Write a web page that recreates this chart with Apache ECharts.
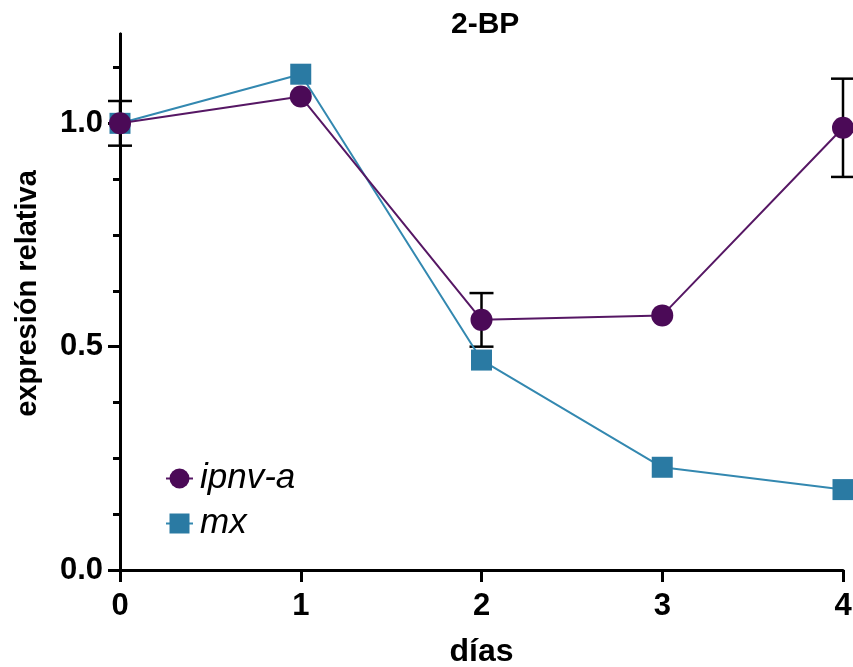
<!DOCTYPE html>
<html><head><meta charset="utf-8">
<script src="https://cdn.jsdelivr.net/npm/echarts@6/dist/echarts.min.js"></script>
<style>html,body{margin:0;padding:0;background:#fff}#c{width:853px;height:667px}</style>
</head><body><div id="c"></div>
<script>
const days = [0, 1, 2, 3, 4];
const ipnvA = [1.0, 1.06, 0.56, 0.57, 0.99];
const ipnvAErr = [0.05, 0, 0.06, 0, 0.11];
const mx = [1.0, 1.11, 0.47, 0.23, 0.18];
const yMajorTicks = [0, 0.5, 1.0];
const yMinorTicks = [0, 0.125, 0.25, 0.375, 0.5, 0.625, 0.75, 0.875, 1.0, 1.125];
const xTicks = [0, 1, 2, 3, 4];
const seriesNames = ['ipnv-a', 'mx'];

const FONT = "'Liberation Sans', Arial, Helvetica, sans-serif";
const PURPLE = '#4b0a57';
const PURPLE_LINE = '#561764';
const BLUE = '#2a7aa3';
const BLUE_LINE = '#3388b0';

const chart = echarts.init(document.getElementById('c'), null, {renderer: 'canvas'});

const axisBase = {
  type: 'value', min: 0, max: 1.2,
  splitLine: {show: false}
};

const option = {
  animation: false,
  backgroundColor: '#fff',
  title: {
    text: '2-BP', left: 446, top: 5,
    textStyle: {fontFamily: FONT, fontSize: 30, fontWeight: 'bold', color: '#000'}
  },
  grid: {left: 120, right: 10, top: 34, bottom: 97, containLabel: false, outerBoundsMode: 'none'},
  legend: {
    data: seriesNames,
    orient: 'vertical', left: 160, top: 456,
    itemWidth: 27, itemHeight: 25, itemGap: 10,
    textStyle: {fontFamily: FONT, fontSize: 35, fontStyle: 'italic', color: '#000', padding: [0, 0, 0, 2]}
  },
  xAxis: {
    type: 'value', min: 0, max: 4, interval: 1,
    name: 'días', nameLocation: 'middle', nameGap: 66,
    nameTextStyle: {fontFamily: FONT, fontSize: 32, fontWeight: 'bold', color: '#000'},
    axisLine: {lineStyle: {color: '#000', width: 3}},
    axisTick: {show: true, inside: false, length: 12, customValues: xTicks, lineStyle: {color: '#000', width: 3}},
    axisLabel: {customValues: xTicks, fontFamily: FONT, fontSize: 31, fontWeight: 'bold', color: '#000', margin: 21},
    splitLine: {show: false}
  },
  yAxis: [
    Object.assign({}, axisBase, {
      name: 'expresión relativa', nameLocation: 'middle', nameGap: 78,
      nameTextStyle: {fontFamily: FONT, fontSize: 29, fontWeight: 'bold', color: '#000', padding: [0, 0, 0, 17]},
      axisLine: {show: true, lineStyle: {color: '#000', width: 3}},
      axisTick: {show: true, inside: false, length: 12, customValues: yMajorTicks, lineStyle: {color: '#000', width: 3}},
      axisLabel: {customValues: yMajorTicks, formatter: v => v.toFixed(1), fontFamily: FONT, fontSize: 31, fontWeight: 'bold', color: '#000', margin: 17}
    }),
    Object.assign({}, axisBase, {
      position: 'left',
      axisLine: {show: true, lineStyle: {color: '#000', width: 3}},
      axisTick: {show: true, inside: false, length: 7, customValues: yMinorTicks, lineStyle: {color: '#000', width: 3}},
      axisLabel: {show: false}
    })
  ],
  series: [
    {
      type: 'custom', name: 'err', z: 1, silent: true,
      data: days.map((d, i) => [d, ipnvA[i], ipnvAErr[i]]).filter(r => r[2] > 0),
      renderItem: function (params, api) {
        const x = api.value(0), y = api.value(1), e = api.value(2);
        const top = api.coord([x, y + e]);
        const bot = api.coord([x, y - e]);
        const hw = 12;
        const st = {stroke: '#000', lineWidth: 2.5};
        return {type: 'group', children: [
          {type: 'line', shape: {x1: top[0], y1: top[1], x2: bot[0], y2: bot[1]}, style: st},
          {type: 'line', shape: {x1: top[0] - hw, y1: top[1], x2: top[0] + hw, y2: top[1]}, style: st},
          {type: 'line', shape: {x1: bot[0] - hw, y1: bot[1], x2: bot[0] + hw, y2: bot[1]}, style: st}
        ]};
      }
    },
    {
      type: 'line', name: 'mx', z: 3,
      data: days.map((d, i) => [d, mx[i]]),
      symbol: 'rect', symbolSize: 21, showAllSymbol: true,
      color: BLUE,
      lineStyle: {color: BLUE_LINE, width: 2},
      itemStyle: {color: BLUE}
    },
    {
      type: 'line', name: 'ipnv-a', z: 4,
      data: days.map((d, i) => [d, ipnvA[i]]),
      symbol: 'circle', symbolSize: 22, showAllSymbol: true,
      color: PURPLE,
      lineStyle: {color: PURPLE_LINE, width: 2},
      itemStyle: {color: PURPLE}
    }
  ]
};
chart.setOption(option);
</script>
</body></html>
